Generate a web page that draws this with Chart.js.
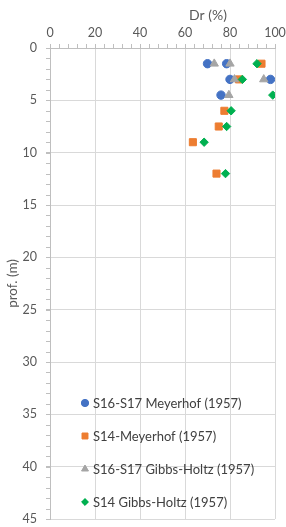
<!DOCTYPE html>
<html><head><meta charset="utf-8">
<script src="https://cdn.jsdelivr.net/npm/chart.js@4/dist/chart.umd.min.js"></script>
<style>html,body{margin:0;padding:0;background:#fff}#wrap{width:286px;height:527px;position:relative}</style>
</head><body><div id="wrap"><canvas id="c" width="286" height="527"></canvas></div>
<script>
const seriesNames = ["S16-S17 Meyerhof (1957)", "S14-Meyerhof (1957)", "S16-S17 Gibbs-Holtz (1957)", "S14 Gibbs-Holtz (1957)"];
const xTitle = "Dr (%)";
const yTitle = "prof. (m)";
const xTicks = [0, 20, 40, 60, 80, 100];
const yTicks = [0, 5, 10, 15, 20, 25, 30, 35, 40, 45];

const s1617MeyerhofDr    = [70, 78.5, 80, 98, 76];
const s1617MeyerhofDepth = [1.5, 1.5, 3, 3, 4.5];
const s14MeyerhofDr      = [94, 84, 77.5, 75, 63.5, 74];
const s14MeyerhofDepth   = [1.5, 3, 6, 7.5, 9, 12];
const s1617GibbsDr       = [73, 80, 82, 95, 79.5];
const s1617GibbsDepth    = [1.5, 1.5, 3, 3, 4.5];
const s14GibbsDr         = [92, 85.5, 99, 80.5, 78.5, 68.5, 78];
const s14GibbsDepth      = [1.5, 3, 4.5, 6, 7.5, 9, 12];

const pts = (xs, ys) => xs.map((x, i) => ({x: x, y: ys[i]}));
const FONT = "Lato, 'Liberation Sans', sans-serif";

const styles = [
  {color: '#4472C4', shape: 'circle', r: 4.2, lr: 3.6},
  {color: '#ED7D31', shape: 'rect', r: 5, lr: 4.2},
  {color: '#A5A5A5', shape: 'triangle', r: 4.8, lr: 4},
  {color: '#00B050', shape: 'rectRot', r: 4.2, lr: 3.4}
];
const dataSets = [
  pts(s1617MeyerhofDr, s1617MeyerhofDepth),
  pts(s14MeyerhofDr, s14MeyerhofDepth),
  pts(s1617GibbsDr, s1617GibbsDepth),
  pts(s14GibbsDr, s14GibbsDepth)
];

const minorTicks = {
  id: 'minorTicks',
  afterDraw(chart) {
    const ctx = chart.ctx, x = chart.scales.x, y = chart.scales.y;
    const a = chart.chartArea;
    ctx.save();
    ctx.strokeStyle = '#bfbfbf';
    ctx.lineWidth = 1;
    ctx.beginPath();
    for (let v = 0; v <= 100; v += 4) {
      const px = Math.round(x.getPixelForValue(v)) + 0.5;
      ctx.moveTo(px, a.top - 4); ctx.lineTo(px, a.top);
    }
    for (let v = 0; v <= 45; v += 1) {
      const py = Math.round(y.getPixelForValue(v)) + 0.5;
      ctx.moveTo(a.left - 4, py); ctx.lineTo(a.left, py);
    }
    ctx.stroke();
    // axis title on top
    ctx.fillStyle = '#595959';
    ctx.font = "14px " + FONT;
    ctx.textAlign = 'center';
    ctx.textBaseline = 'middle';
    ctx.fillText(xTitle, 208, 15);
    // legend
    const rows = [403, 436, 469, 502];
    ctx.textAlign = 'left';
    ctx.font = "13px " + FONT;
    seriesNames.forEach((name, i) => {
      const s = styles[i];
      ctx.fillStyle = s.color;
      ctx.strokeStyle = s.color;
      Chart.helpers.drawPoint(ctx, {pointStyle: s.shape, radius: s.lr, borderWidth: 1, rotation: 0}, 85, rows[i]);
      ctx.fill();
      ctx.fillStyle = '#404040';
      ctx.fillText(name, 93, rows[i] + 0.5);
    });
    ctx.restore();
  }
};

new Chart(document.getElementById('c'), {
  type: 'scatter',
  data: {
    datasets: dataSets.map((d, i) => ({
      label: seriesNames[i],
      data: d,
      pointStyle: styles[i].shape,
      pointRadius: styles[i].r,
      pointHoverRadius: styles[i].r,
      backgroundColor: styles[i].color,
      borderColor: styles[i].color,
      borderWidth: 1,
      order: 4 - i
    }))
  },
  options: {
    responsive: false,
    animation: false,
    devicePixelRatio: 1,
    layout: {padding: {left: 0, top: 0, right: 11, bottom: 8}},
    plugins: {legend: {display: false}, tooltip: {enabled: false}},
    scales: {
      x: {
        type: 'linear', position: 'top', min: 0, max: 100,
        afterBuildTicks: s => { s.ticks = xTicks.map(v => ({value: v})); },
        afterFit: s => { s.height = 48; s.paddingLeft = 0; s.paddingRight = 0; },
        ticks: {color: '#595959', font: {family: FONT, size: 12.5}, padding: 4},
        grid: {color: '#d9d9d9', tickColor: '#bfbfbf', tickLength: 4, drawTicks: true},
        border: {color: '#bfbfbf'}
      },
      y: {
        type: 'linear', reverse: true, min: 0, max: 45,
        afterBuildTicks: s => { s.ticks = yTicks.map(v => ({value: v})); },
        afterFit: s => { s.width = 50; s.paddingTop = 0; s.paddingBottom = 0; },
        ticks: {color: '#595959', font: {family: FONT, size: 12.5}, padding: 9},
        grid: {color: '#d9d9d9', tickColor: '#bfbfbf', tickLength: 4, drawTicks: true},
        border: {color: '#bfbfbf'},
        title: {display: true, text: yTitle, color: '#595959', font: {family: FONT, size: 13.5}, padding: {top: 5, bottom: 0}}
      }
    }
  },
  plugins: [minorTicks]
});
</script>
</body></html>
